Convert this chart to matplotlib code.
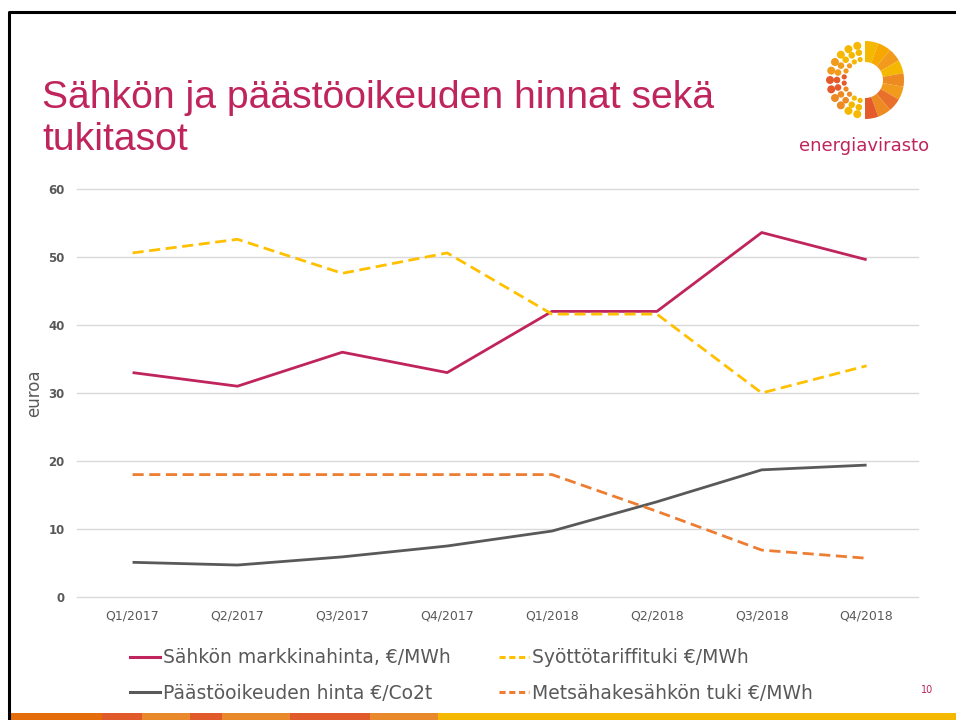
import matplotlib
matplotlib.use("Agg")
import matplotlib.pyplot as plt
from matplotlib.patches import Wedge, Circle, Rectangle
from matplotlib.lines import Line2D
import numpy as np

# ── Data ─────────────────────────────────────────
quarters = ["Q1/2017", "Q2/2017", "Q3/2017", "Q4/2017",
            "Q1/2018", "Q2/2018", "Q3/2018", "Q4/2018"]
markkinahinta = [33.0, 31.0, 36.0, 33.0, 42.0, 42.0, 53.6, 49.6]
syottotariffi = [50.6, 52.6, 47.6, 50.6, 41.6, 41.6, 30.0, 34.0]
paastooikeus = [5.1, 4.7, 5.9, 7.5, 9.7, 14.0, 18.7, 19.4]
metsahake = [18.0, 18.0, 18.0, 18.0, 18.0, 12.6, 6.9, 5.7]

series_labels = ["Sähkön markkinahinta, €/MWh", "Syöttötariffituki €/MWh",
                 "Päästöoikeuden hinta €/Co2t", "Metsähakesähkön tuki €/MWh"]
y_ticks = [0, 10, 20, 30, 40, 50, 60]

CRIMSON = "#C0245C"
YELLOW = "#FFC000"
GREY = "#595959"
ORANGE = "#ED7D31"
DARK = "#595959"

W, H = 956, 720
fig = plt.figure(figsize=(W / 100, H / 100), dpi=100)
fig.patch.set_facecolor("white")

# ── Chart ────────────────────────────────────────
ax = fig.add_axes([77 / W, 1 - 597 / H, (918 - 77) / W, (597 - 189) / H])
x = np.arange(len(quarters))
ax.plot(x, markkinahinta, color=CRIMSON, lw=2.0, solid_capstyle="butt", zorder=3)
ax.plot(x, syottotariffi, color=YELLOW, lw=2.0, dashes=(4, 2), zorder=3)
ax.plot(x, paastooikeus, color=GREY, lw=2.0, solid_capstyle="butt", zorder=3)
ax.plot(x, metsahake, color=ORANGE, lw=2.0, dashes=(4, 2), zorder=3)

ax.set_xlim(-0.53, 7.49)
ax.set_ylim(0, 60)
ax.set_yticks(y_ticks)
ax.set_yticklabels([str(t) for t in y_ticks], fontsize=8.5, fontweight="bold", color=DARK)
ax.set_xticks(x)
ax.set_xticklabels(quarters, fontsize=9, color=DARK)
ax.tick_params(length=0)
ax.tick_params(axis="y", pad=9)
ax.tick_params(axis="x", pad=9)
ax.grid(axis="y", color="#D9D9D9", lw=1)
for gl in ax.get_ygridlines():
    gl.set_clip_on(False)
ax.set_axisbelow(True)
for s in ax.spines.values():
    s.set_visible(False)
ax.set_ylabel("euroa", fontsize=12, color=DARK)
ax.yaxis.set_label_coords((43 - 77) / (918 - 77), 0.5)

# ── Legend ───────────────────────────────────────
handles = [
    Line2D([], [], color=CRIMSON, lw=2.2),
    Line2D([], [], color=GREY, lw=2.2),
    Line2D([], [], color=YELLOW, lw=2.2, dashes=(2, 1.2)),
    Line2D([], [], color=ORANGE, lw=2.2, dashes=(2, 1.2)),
]
labels = [series_labels[0], series_labels[2], series_labels[1], series_labels[3]]
leg = fig.legend(handles, labels, ncol=2, frameon=False, fontsize=13.5,
                 loc="upper left", bbox_to_anchor=(121 / W, 1 - 639 / H),
                 handlelength=1.6, handletextpad=0.15, columnspacing=2.55,
                 labelspacing=0.88, borderpad=0)
for t in leg.get_texts():
    t.set_color(DARK)

# ── Slide decorations (pixel coords) ─────────────
deco = fig.add_axes([0, 0, 1, 1], zorder=-1)
deco.set_xlim(0, W)
deco.set_ylim(H, 0)
deco.axis("off")
deco.plot([9, 9, W], [H, 11.5, 11.5], color="black", lw=2.2, solid_capstyle="butt")

# bottom strip
strip = [(9, 102, "#E46C0A"), (102, 142, "#E05A2B"), (142, 190, "#E8892B"),
         (190, 222, "#E05A2B"), (222, 290, "#E8892B"), (290, 370, "#E05A2B"),
         (370, 438, "#E8892B"), (438, W, "#F5B800")]
for a, b, c in strip:
    deco.add_patch(Rectangle((a, 713), b - a, 7, color=c, lw=0))

# title
fig.text(42 / W, 1 - 80 / H, "Sähkön ja päästöoikeuden hinnat sekä\ntukitasot",
         fontsize=28.2, color=CRIMSON, va="top", ha="left", linespacing=1.2,
         family="Liberation Sans")

# logo
cx, cy = 865, 80
seg_cols = ["#F5B800", "#F7A800", "#F29A1C", "#F5B800", "#EE8A22",
            "#F29A1C", "#E9702A", "#EE8A22", "#E55A2A"]
n = len(seg_cols)
for i, c in enumerate(seg_cols):
    t1 = 90 - i * 180 / n
    t2 = t1 - 180 / n
    # y axis inverted, so flip angles
    deco.add_patch(Wedge((cx, cy), 39, -t1, -t2, width=21, color=c, lw=0))
rng_r = [21, 28, 35]
rng_s = [2.6, 3.3, 4.0]
for r, s in zip(rng_r, rng_s):
    nd = int(np.pi * r / (2.4 * s))
    for k in range(nd):
        ang = np.deg2rad(95 + (k + 0.5) * 170 / nd)
        frac = k / max(nd - 1, 1)
        col = ["#F5B800", "#F29A1C", "#E55A2A", "#EE8A22", "#F5B800"][int(frac * 4.99)]
        deco.add_patch(Circle((cx + r * np.cos(ang), cy - r * np.sin(ang)), s,
                              color=col, lw=0))
fig.text(864 / W, 1 - 146 / H, "energiavirasto", fontsize=13, color=CRIMSON,
         ha="center", va="center")

# page number
fig.text(927 / W, 1 - 690 / H, "10", fontsize=7, color=CRIMSON, ha="center", va="center")

fig.savefig("out.png", dpi=100, facecolor="white")
